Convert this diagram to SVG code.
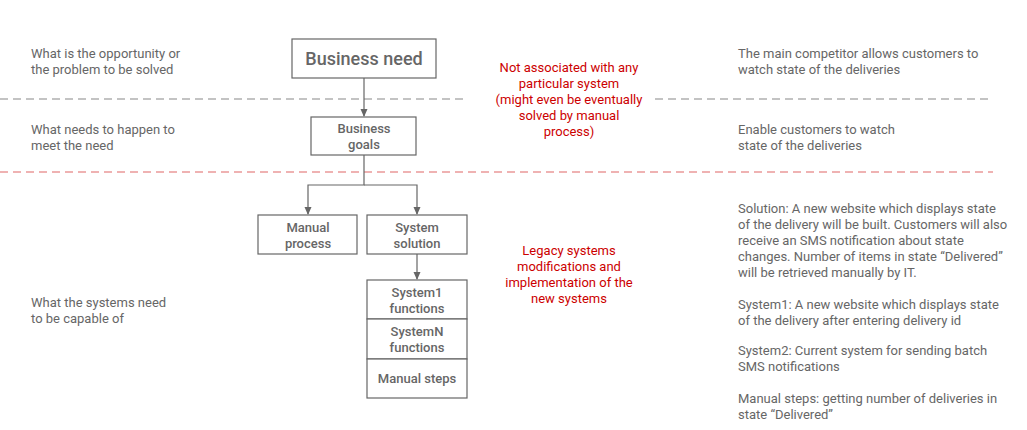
<svg xmlns="http://www.w3.org/2000/svg" width="1027" height="430" viewBox="0 0 1027 430">
<defs>
<marker id="arr" viewBox="0 0 8 8" refX="7" refY="4" markerWidth="8" markerHeight="8" markerUnits="userSpaceOnUse" orient="auto">
<path d="M0,0.5 L8,4 L0,7.5 Z" fill="#666"/>
</marker>
<style>
text{font-family:Roboto,"Liberation Sans",sans-serif;font-size:13px;fill:#666}
.red{fill:#cc0000;text-anchor:middle}
.box{fill:#fff;stroke:#666;stroke-width:1.2}
.bt{text-anchor:middle;font-weight:500}
.conn{fill:none;stroke:#666;stroke-width:1.2}
.dg{stroke:#888;stroke-width:1.2;stroke-dasharray:8,5}
.dr{stroke:#e06666;stroke-width:1.2;stroke-dasharray:8,5}
</style>
</defs>
<rect width="1027" height="430" fill="#fff"/>
<g id="separators">
<line class="dg" x1="0" y1="99" x2="467" y2="99"/>
<line class="dg" x1="655" y1="99" x2="993" y2="99"/>
<line class="dr" x1="0" y1="172" x2="993" y2="172"/>
</g>
<g id="connectors">
<path class="conn" d="M364,78 V116" marker-end="url(#arr)"/>
<path class="conn" d="M364,155 V185 H308 V214" marker-end="url(#arr)"/>
<path class="conn" d="M364,185 H417 V214" marker-end="url(#arr)"/>
<path class="conn" d="M417,254 V279" marker-end="url(#arr)"/>
</g>
<g id="business-need">
<rect class="box" x="292" y="39" width="144" height="39"/>
<text class="bt" x="364" y="65" style="font-size:18px">Business need</text>
</g>
<g id="business-goals">
<rect class="box" x="311" y="117" width="105" height="38"/>
<text class="bt" x="364" y="133">Business</text>
<text class="bt" x="364" y="149">goals</text>
</g>
<g id="manual-process">
<rect class="box" x="258" y="215" width="99" height="39"/>
<text class="bt" x="308" y="232">Manual</text>
<text class="bt" x="308" y="248">process</text>
</g>
<g id="system-solution">
<rect class="box" x="367" y="215" width="100" height="39"/>
<text class="bt" x="417" y="232">System</text>
<text class="bt" x="417" y="248">solution</text>
</g>
<g id="system1-functions">
<rect class="box" x="367" y="280" width="100" height="39"/>
<text class="bt" x="417" y="297">System1</text>
<text class="bt" x="417" y="313">functions</text>
</g>
<g id="systemn-functions">
<rect class="box" x="367" y="319" width="100" height="40"/>
<text class="bt" x="417" y="336">SystemN</text>
<text class="bt" x="417" y="352">functions</text>
</g>
<g id="manual-steps">
<rect class="box" x="367" y="359" width="100" height="39"/>
<text class="bt" x="417" y="383">Manual steps</text>
</g>
<g id="left-labels">
<text x="31" y="58">What is the opportunity or</text>
<text x="31" y="74">the problem to be solved</text>
<text x="31" y="134">What needs to happen to</text>
<text x="31" y="150">meet the need</text>
<text x="31" y="307">What the systems need</text>
<text x="31" y="323">to be capable of</text>
</g>
<g id="red-notes">
<text class="red" x="569" y="72">Not associated with any</text>
<text class="red" x="569" y="88">particular system</text>
<text class="red" x="569" y="104">(might even be eventually</text>
<text class="red" x="569" y="120">solved by manual</text>
<text class="red" x="569" y="136">process)</text>
<text class="red" x="569" y="255">Legacy systems</text>
<text class="red" x="569" y="271">modifications and</text>
<text class="red" x="569" y="287">implementation of the</text>
<text class="red" x="569" y="303">new systems</text>
</g>
<g id="right-examples">
<text x="738" y="58">The main competitor allows customers to</text>
<text x="738" y="74">watch state of the deliveries</text>
<text x="738" y="134">Enable customers to watch</text>
<text x="738" y="150">state of the deliveries</text>
<text x="738" y="213">Solution: A new website which displays state</text>
<text x="738" y="229">of the delivery will be built. Customers will also</text>
<text x="738" y="245">receive an SMS notification about state</text>
<text x="738" y="261">changes. Number of items in state “Delivered”</text>
<text x="738" y="277">will be retrieved manually by IT.</text>
<text x="738" y="309">System1: A new website which displays state</text>
<text x="738" y="325">of the delivery after entering delivery id</text>
<text x="738" y="355">System2: Current system for sending batch</text>
<text x="738" y="371">SMS notifications</text>
<text x="738" y="403">Manual steps: getting number of deliveries in</text>
<text x="738" y="419">state “Delivered”</text>
</g>
</svg>
